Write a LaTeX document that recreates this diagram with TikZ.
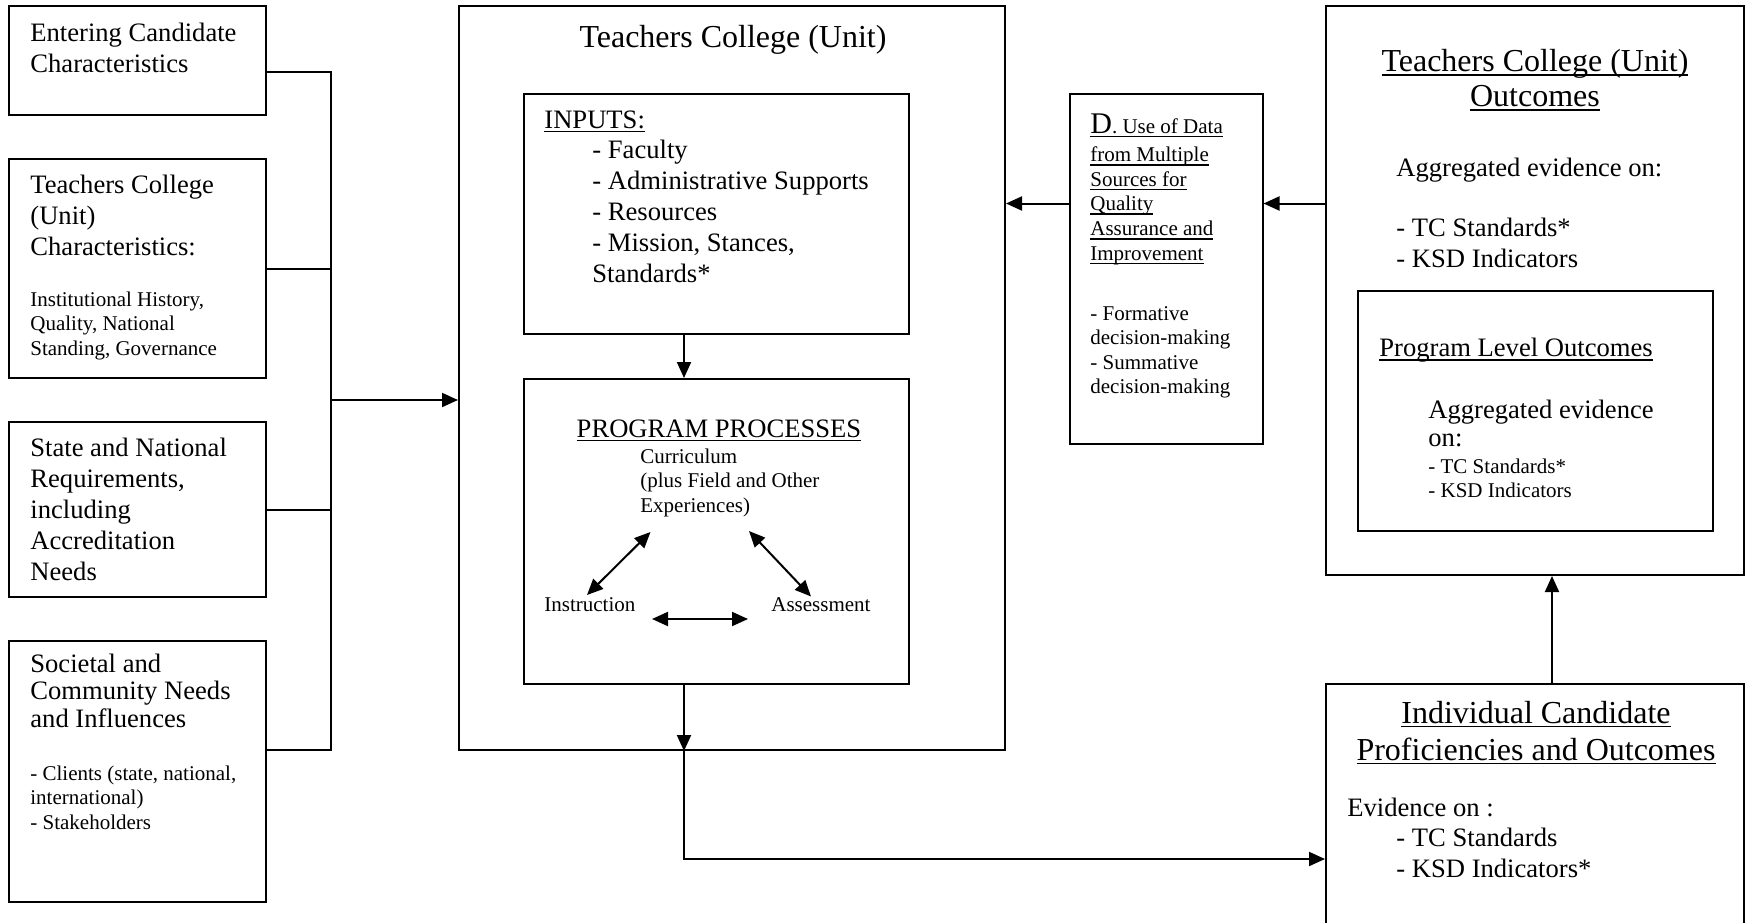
\documentclass[tikz,border=0pt]{standalone}
\usepackage{fontspec}
\setmainfont{Liberation Serif}
\usetikzlibrary{arrows.meta}
\newcommand\fbig{\fontsize{13.3}{15.5}\selectfont}
\newcommand\fsmall{\fontsize{10.5}{12.3}\selectfont}
\newcommand\fttl{\fontsize{16}{17.5}\selectfont}
\newcommand\undl[1]{\leavevmode\setbox0\hbox{#1}\rlap{\rule[-2pt]{\wd0}{0.75pt}}\box0}
\begin{document}
\begin{tikzpicture}[x=0.5pt,y=-0.5pt,
	box/.style={draw, line width=1pt, inner sep=0pt},
	lbl/.style={anchor=base west, inner sep=0pt, align=left, font=\fbig},
	lblsm/.style={lbl, font=\fsmall},
	ttl/.style={anchor=base, inner sep=0pt, align=center, font=\fttl},
	arr/.style={line width=1pt, -{Triangle[length=8pt,width=7pt]}},
	arrs/.style={line width=1pt, {Triangle[length=8pt,width=7pt]}-{Triangle[length=8pt,width=7pt]}}]
	\useasboundingbox (0,0) rectangle (1747,922);

	\draw node[box, minimum width=128.5pt, minimum height=54.5pt] (1) at (137.5,60.5) {};
	\draw node[box, minimum width=128.5pt, minimum height=109.5pt] (2) at (137.5,268.5) {};
	\draw node[box, minimum width=128.5pt, minimum height=87.5pt] (3) at (137.5,509.5) {};
	\draw node[box, minimum width=128.5pt, minimum height=130.5pt] (4) at (137.5,771.5) {};
	\draw node[box, minimum width=273pt, minimum height=372pt] (5) at (732,378) {};
	\draw node[box, minimum width=192.5pt, minimum height=120pt] (6) at (716.5,214) {};
	\draw node[box, minimum width=192.5pt, minimum height=152.5pt] (7) at (716.5,531.5) {};
	\draw node[box, minimum width=96.5pt, minimum height=175pt] (8) at (1166,269) {};
	\draw node[box, minimum width=209pt, minimum height=284.5pt] (9) at (1535,290.5) {};
	\draw node[box, minimum width=177.5pt, minimum height=120pt] (10) at (1535.5,411) {};
	\draw node[box, minimum width=209pt, minimum height=128pt] (11) at (1535,812) {};

	\node[lbl] (1a) at (30,72.7) {Entering Candidate\\Characteristics};
	\node[lbl] (2a) at (30,255) {Teachers College\\(Unit)\\Characteristics:};
	\node[lblsm] (2b) at (30,355.2) {Institutional History,\\Quality, National\\Standing, Governance};
	\node[lbl] (3a) at (30,580.7) {State and National\\Requirements,\\including\\Accreditation\\Needs};
	\node[lbl, font=\fontsize{13.3}{13.9}\selectfont] (4a) at (30,727.6) {Societal and\\Community Needs\\and Influences};
	\node[lblsm] (4b) at (30,829.2) {- Clients (state, national,\\international)\\- Stakeholders};

	\node[ttl] (5a) at (733,47) {Teachers College (Unit)};
	\node[lbl] (6a) at (544,128) {\undl{INPUTS:}};
	\node[lbl] (6b) at (592,282) {- Faculty\\- Administrative Supports\\- Resources\\- Mission, Stances,\\Standards*};
	\node[lbl, anchor=base] (7a) at (719,437) {\undl{PROGRAM PROCESSES}};
	\node[lblsm] (7b) at (640,512.2) {Curriculum\\(plus Field and Other\\Experiences)};
	\node[lblsm] (7c) at (544,611) {Instruction};
	\node[lblsm] (7d) at (771,611) {Assessment};

	\node[lblsm] (8a) at (1090,133) {\undl{{\fontsize{15}{15}\selectfont D}. Use of Data}};
	\node[lblsm] (8b) at (1090,260.1) {\undl{from Multiple}\\\undl{Sources for}\\\undl{Quality}\\\undl{Assurance and}\\\undl{Improvement}};
	\node[lblsm] (8c) at (1090,393.8) {- Formative\\decision-making\\- Summative\\decision-making};

	\node[ttl] (9a) at (1535,106.7) {\undl{Teachers College (Unit)}\\\undl{Outcomes}};
	\node[lbl] (9b) at (1396,176) {Aggregated evidence on:};
	\node[lbl] (9c) at (1396,267.7) {- TC Standards*\\- KSD Indicators};
	\node[lbl] (10a) at (1379,356.7) {\undl{Program Level Outcomes}};
	\node[lbl, font=\fontsize{13.3}{14.3}\selectfont] (10b) at (1428,446.9) {Aggregated evidence\\on:};
	\node[lblsm] (10c) at (1428,497.6) {- TC Standards*\\- KSD Indicators};
	\node[ttl, font=\fontsize{16}{18.5}\selectfont] (11a) at (1536,760) {\undl{Individual Candidate}\\\undl{Proficiencies and Outcomes}};
	\node[lbl] (11b) at (1347,816) {Evidence on :};
	\node[lbl] (11c) at (1396,877.7) {- TC Standards\\- KSD Indicators*};

	\coordinate (b1) at (331,72);
	\coordinate (b0) at (331,400);
	\coordinate (b4) at (331,750);
	\coordinate (c1) at (684,859);
	\coordinate (c2) at (1552,203.5);
	\coordinate (p1) at (650.5,532);
	\coordinate (p2) at (587,595);
	\coordinate (p3) at (749,531);
	\coordinate (p4) at (811,596.5);
	\coordinate (p5) at (652,619);
	\coordinate (p6) at (748,619);

	\draw[line width=1pt] (1.east |- b1) -- (b1) -- (b4) -- (4.east |- b4);
	\draw[line width=1pt] (2.east) -- (2.east -| b1);
	\draw[line width=1pt] (3.east) -- (3.east -| b1);
	\draw[arr] (b0) -- (5.west |- b0);
	\draw[arr] (6.south -| c1) -- (7.north -| c1);
	\draw[arr] (7.south -| c1) -- (5.south -| c1);
	\draw[arr] (5.south -| c1) -- (c1) -- (11.west |- c1);
	\draw[arr] (8.west |- c2) -- (5.east |- c2);
	\draw[arr] (9.west |- c2) -- (8.east |- c2);
	\draw[arr] (11.north -| c2) -- (9.south -| c2);
	\draw[arrs] (p1) -- (p2);
	\draw[arrs] (p3) -- (p4);
	\draw[arrs] (p5) -- (p6);
\end{tikzpicture}
\end{document}
